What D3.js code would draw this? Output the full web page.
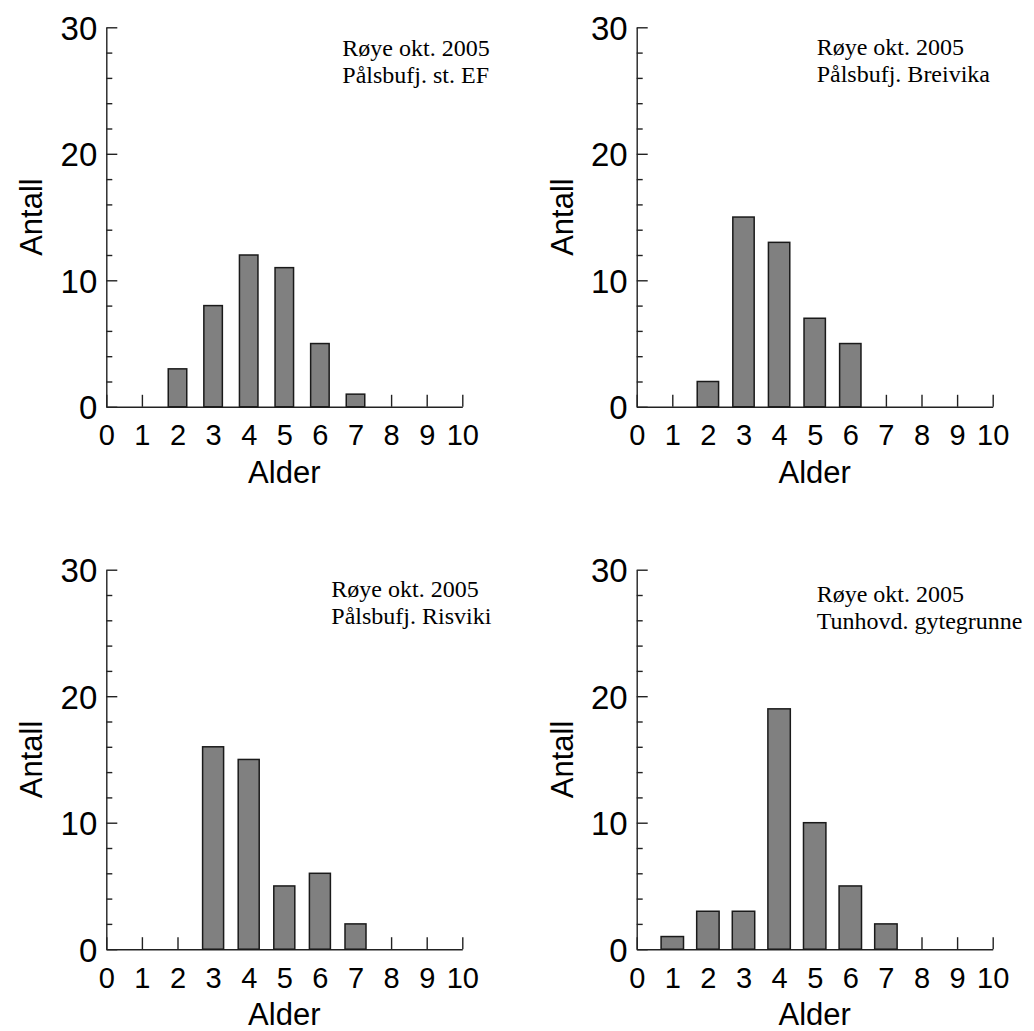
<!DOCTYPE html>
<meta charset="utf-8">
<style>
body { margin: 0; background: #fff; }
.axis path, .axis line { stroke: #222; stroke-width: 1.4px; }
.axis text { font-family: "Liberation Sans", Arial, sans-serif; fill: #000; }
.bar { fill: #808080; stroke: #1a1a1a; stroke-width: 1.5px; }
.note { font: 24px "Liberation Serif", "Times New Roman", serif; fill: #000; }
.title { font: 31px "Liberation Sans", Arial, sans-serif; fill: #000; }
</style>
<body>
<script src="https://cdn.jsdelivr.net/npm/d3@7"></script>
<script>

var ages = [1, 2, 3, 4, 5, 6, 7];
var xTicks = [0, 1, 2, 3, 4, 5, 6, 7, 8, 9, 10];
var yMajor = [0, 10, 20, 30];
var yMinor = [2, 4, 6, 8, 12, 14, 16, 18, 22, 24, 26, 28];

// counts per age 1..7
var stEF      = [0, 3, 8, 12, 11, 5, 1];
var breivika  = [0, 2, 15, 13, 7, 5, 0];
var risviki   = [0, 0, 16, 15, 5, 6, 2];
var tunhovd   = [1, 3, 3, 19, 10, 5, 2];

var notes = [
  ["Røye okt. 2005", "Pålsbufj. st. EF"],
  ["Røye okt. 2005", "Pålsbufj. Breivika"],
  ["Røye okt. 2005", "Pålsbufj. Risviki"],
  ["Røye okt. 2005", "Tunhovd. gytegrunne"]
];

var panels = [
  {counts: stEF,     note: notes[0], left: 106.3, top: 27.3,  bw: 0.52, nx: 236, ny: 28.7},
  {counts: breivika, note: notes[1], left: 636.7, top: 27.3,  bw: 0.60, nx: 180, ny: 27.7},
  {counts: risviki,  note: notes[2], left: 106.3, top: 569.7, bw: 0.59, nx: 225, ny: 27},
  {counts: tunhovd,  note: notes[3], left: 636.7, top: 569.7, bw: 0.63, nx: 180, ny: 32}
];

var w = 356, h = 379.5;

var svg = d3.select("body").append("svg")
    .attr("width", 1034)
    .attr("height", 1031);

var x = d3.scaleLinear().domain([0, 10]).range([0, w]);
var y = d3.scaleLinear().domain([0, 30]).range([h, 0]);

panels.forEach(function(p) {
  var g = svg.append("g").attr("transform", "translate(" + p.left + "," + p.top + ")");

  // minor y ticks
  g.append("g").attr("class", "axis")
      .call(d3.axisLeft(y).tickValues(yMinor).tickSize(-6).tickSizeOuter(0).tickFormat(""))
      .select(".domain").remove();

  var ya = g.append("g").attr("class", "axis")
      .call(d3.axisLeft(y).tickValues(yMajor).tickSize(-11).tickSizeOuter(0).tickPadding(9));
  ya.selectAll("text").style("font-size", "33px").attr("dy", "0.36em");

  var xa = g.append("g").attr("class", "axis")
      .attr("transform", "translate(0," + h + ")")
      .call(d3.axisBottom(x).tickValues(xTicks).tickSize(-12).tickSizeOuter(0));
  xa.selectAll("text").style("font-size", "29px").attr("y", 38.4).attr("dy", 0);

  g.selectAll("rect.bar")
      .data(ages.map(function(a, i) { return {age: a, n: p.counts[i]}; })
                .filter(function(d) { return d.n > 0; }))
    .enter().append("rect")
      .attr("class", "bar")
      .attr("x", function(d) { return x(d.age - p.bw / 2); })
      .attr("width", function(d) { return x(p.bw) - x(0); })
      .attr("y", function(d) { return y(d.n); })
      .attr("height", function(d) { return y(0) - y(d.n); });

  g.append("text").attr("class", "title")
      .attr("x", w / 2).attr("y", h + 76)
      .attr("text-anchor", "middle")
      .text("Alder");

  g.append("text").attr("class", "title")
      .attr("transform", "translate(-64," + (h / 2) + ") rotate(-90)")
      .attr("text-anchor", "middle")
      .text("Antall");

  g.append("text").attr("class", "note")
      .attr("x", p.nx).attr("y", p.ny)
      .selectAll("tspan")
      .data(p.note)
    .enter().append("tspan")
      .attr("x", p.nx)
      .attr("dy", function(d, i) { return i ? 27.5 : 0; })
      .text(function(d) { return d; });
});

</script>
</body>
